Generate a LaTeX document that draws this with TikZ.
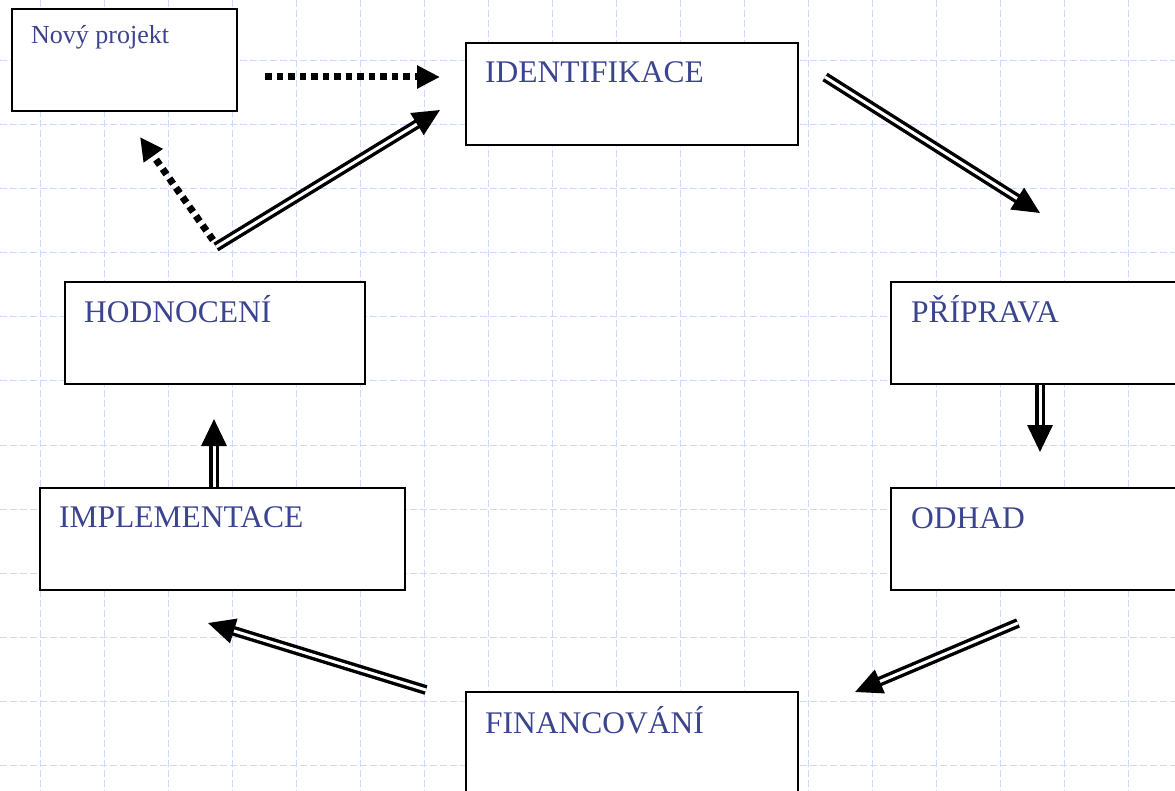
\documentclass[tikz,border=0pt]{standalone}
\usepackage{fontspec}
\setmainfont{Liberation Serif}
\usetikzlibrary{positioning,calc,arrows.meta}
\definecolor{gridblue}{RGB}{205,216,255}
\definecolor{labelblue}{RGB}{59,68,142}
\tikzset{
  gridline/.style={draw=gridblue, line width=1pt, dash pattern=on 7pt off 3pt},
  box/.style={draw=black, line width=2pt, fill=white, rectangle, anchor=north west, inner sep=0pt, minimum height=102pt},
  boxlabel/.style={text=labelblue, anchor=base west, inner sep=0pt, font=\fontsize{31.5}{36}\selectfont},
  flow/.style={double=white, double distance=3pt, line width=3.4pt, -{Triangle[length=27pt,width=25pt]}},
  dotflow/.style={line width=7pt, dash pattern=on 6.5pt off 5pt, -{Triangle[length=23pt,width=22pt]}},
}
\begin{document}
\begin{tikzpicture}[x=1pt,y=-1pt]
\useasboundingbox (0,0) rectangle (1175,791);
\clip (0,0) rectangle (1175,791);
\fill[white] (0,0) rectangle (1175,791);
\foreach \x in {40,104,...,1128} \draw[gridline] (\x,0) -- (\x,791);
\foreach \y in {61,125,...,765} \draw[gridline] (0,\y) -- (1175,\y);
\node[box, minimum width=225pt] (box_novy) at (11,8) {};
\node[box, minimum width=332pt] (box_ident) at (465,42) {};
\node[box, minimum width=332pt] (box_prip) at (890,281) {};
\node[box, minimum width=332pt] (box_odhad) at (890,487) {};
\node[box, minimum width=332pt] (box_finan) at (465,691) {};
\node[box, minimum width=300pt] (box_hodn) at (64,281) {};
\node[box, minimum width=365pt] (box_impl) at (39,487) {};
\node[boxlabel, font=\fontsize{26}{30}\selectfont] (lbl_novy) at ($(box_novy.north west)+(20,36)$) {Nový projekt};
\node[boxlabel] (lbl_ident) at ($(box_ident.north west)+(20,41)$) {IDENTIFIKACE};
\node[boxlabel] (lbl_prip) at ($(box_prip.north west)+(21,42)$) {PŘÍPRAVA};
\node[boxlabel] (lbl_odhad) at ($(box_odhad.north west)+(21,41)$) {ODHAD};
\node[boxlabel] (lbl_finan) at ($(box_finan.north west)+(20,42)$) {FINANCOVÁNÍ};
\node[boxlabel] (lbl_hodn) at ($(box_hodn.north west)+(20,42)$) {HODNOCENÍ};
\node[boxlabel] (lbl_impl) at ($(box_impl.north west)+(20,40)$) {IMPLEMENTACE};
% arrow ends
\coordinate (dot_a_start) at (265,77);
\coordinate (dot_a_end) at (440,77);
\coordinate (dot_b_start) at (213,240);
\coordinate (dot_b_end) at (140,137);
\coordinate (arr_a_start) at (216,247);
\coordinate (arr_a_end) at (440,110);
\coordinate (arr_b_start) at (825,77);
\coordinate (arr_b_end) at (1040,213);
\coordinate (arr_c_end) at (1040,452);
\coordinate (arr_d_start) at (1018,623);
\coordinate (arr_d_end) at (855,692);
\coordinate (arr_e_start) at (426,690);
\coordinate (arr_e_end) at (208,623);
\coordinate (arr_f_end) at (214,419);
\draw[dotflow] (dot_a_start) -- (dot_a_end);
\draw[dotflow] (dot_b_start) -- (dot_b_end);
\draw[flow] (arr_a_start) -- (arr_a_end);
\draw[flow] (arr_b_start) -- (arr_b_end);
\draw[flow] (box_prip.south west -| arr_c_end) -- (arr_c_end);
\draw[flow] (arr_d_start) -- (arr_d_end);
\draw[flow] (arr_e_start) -- (arr_e_end);
\draw[flow] (box_impl.north west -| arr_f_end) -- (arr_f_end);
\end{tikzpicture}
\end{document}
